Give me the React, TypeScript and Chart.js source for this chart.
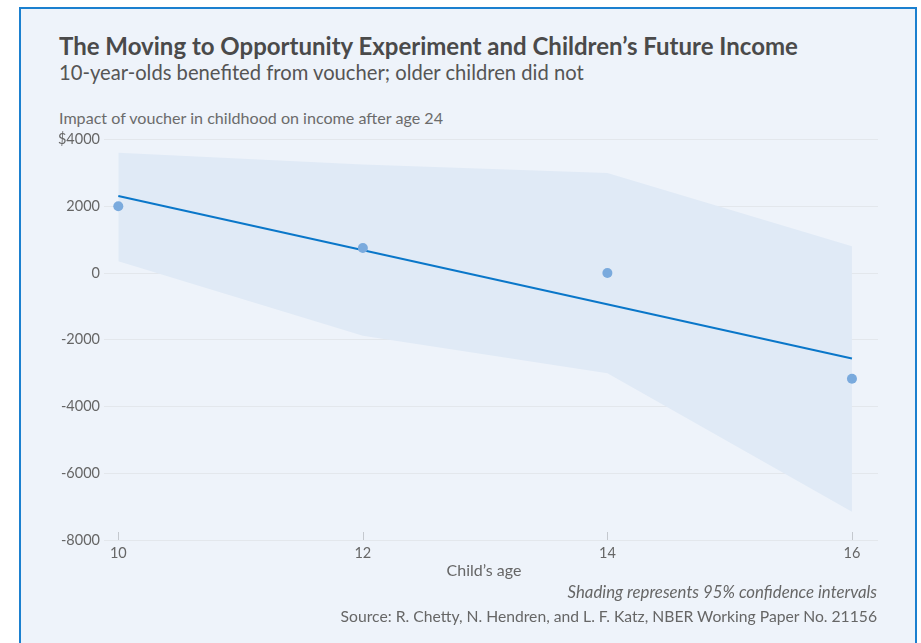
import React, { useEffect, useRef } from "react";
import { Chart, registerables } from "chart.js";

Chart.register(...registerables);

// ---- data ----
const ages = [10, 12, 14, 16];
const impact = [2000, 750, 0, -3170];
const ciUpper = [3600, 3250, 3000, 800];
const ciLower = [350, -1880, -3000, -7150];
const fitAges = [10, 16];
const fitValues = [2310, -2560];
const xTicks = [10, 12, 14, 16];
const yTicks = [4000, 2000, 0, -2000, -4000, -6000, -8000];

const FONT = "Lato, 'Open Sans', sans-serif";

const tickMarks = {
  id: "tickMarks",
  beforeDatasetsDraw(chart: any) {
    const { ctx, chartArea, scales } = chart;
    const x = scales.x;
    ctx.save();
    ctx.strokeStyle = "#c4c8ce";
    ctx.lineWidth = 1;
    xTicks.forEach((v) => {
      const px = Math.round(x.getPixelForValue(v)) + 0.5;
      ctx.beginPath();
      ctx.moveTo(px, chartArea.bottom);
      ctx.lineTo(px, chartArea.bottom - 8);
      ctx.stroke();
    });
    ctx.restore();
  },
};

export default function App() {
  const ref = useRef<HTMLCanvasElement>(null);

  useEffect(() => {
    if (!ref.current) return;
    const chart = new Chart(ref.current, {
      type: "line",
      data: {
        datasets: [
          {
            type: "scatter",
            label: "Impact",
            data: ages.map((a, i) => ({ x: a, y: impact[i] })),
            backgroundColor: "#7aaadd",
            borderWidth: 0,
            pointRadius: 5,
            pointHoverRadius: 5,
            order: 0,
          } as any,
          {
            label: "Fit",
            data: fitAges.map((a, i) => ({ x: a, y: fitValues[i] })),
            borderColor: "#0a77c9",
            borderWidth: 2,
            pointRadius: 0,
            fill: false,
            tension: 0,
            order: 1,
          },
          {
            label: "CI lower",
            data: ages.map((a, i) => ({ x: a, y: ciLower[i] })),
            borderWidth: 0,
            borderColor: "rgba(0,0,0,0)",
            pointRadius: 0,
            fill: false,
            tension: 0,
            order: 3,
          },
          {
            label: "CI upper",
            data: ages.map((a, i) => ({ x: a, y: ciUpper[i] })),
            borderWidth: 0,
            borderColor: "rgba(0,0,0,0)",
            backgroundColor: "#e0eaf6",
            pointRadius: 0,
            fill: { target: 2 },
            tension: 0,
            order: 2,
          },
        ],
      },
      options: {
        animation: false,
        responsive: false,
        maintainAspectRatio: false,
        layout: { padding: { left: 0, top: 139.5, right: 43, bottom: 73 } },
        plugins: {
          legend: { display: false },
          tooltip: { enabled: false },
          title: { display: false },
        },
        scales: {
          x: {
            type: "linear",
            min: 9.883,
            max: 16.213,
            grid: { display: false, drawTicks: false },
            border: { display: false },
            afterBuildTicks: (s: any) => {
              s.ticks = xTicks.map((v) => ({ value: v }));
            },
            afterFit: (s: any) => {
              s.height = 30;
            },
            ticks: {
              padding: 5,
              color: "#666",
              font: { family: FONT, size: 14.5 },
              callback: (v: any) => String(v),
            },
          },
          y: {
            type: "linear",
            min: -8000,
            max: 4000,
            grid: { color: "#e3e7ec", lineWidth: 1, drawTicks: false },
            border: { display: false },
            afterBuildTicks: (s: any) => {
              s.ticks = yTicks.map((v) => ({ value: v }));
            },
            afterFit: (s: any) => {
              s.width = 104;
            },
            ticks: {
              padding: 4,
              color: "#666",
              font: { family: FONT, size: 14.5 },
              callback: (v: any) => (v === 4000 ? "$4000" : String(v)),
            },
          },
        },
      },
      plugins: [tickMarks],
    });
    return () => chart.destroy();
  }, []);

  const abs = (s: React.CSSProperties): React.CSSProperties => ({
    position: "absolute",
    whiteSpace: "nowrap",
    lineHeight: 1,
    fontFamily: FONT,
    ...s,
  });

  return (
    <div
      style={{
        position: "fixed",
        left: 0,
        top: 0,
        width: 921,
        height: 643,
        overflow: "hidden",
        background: "#ffffff",
      }}
    >
      <div
        style={{
          position: "absolute",
          left: 19,
          top: 7,
          width: 898,
          height: 700,
          boxSizing: "border-box",
          border: "2px solid #1b80cf",
          background: "#eef3fa",
        }}
      />
      <div style={abs({ left: 59, top: 33.7, fontSize: 24, fontWeight: 700, color: "#4a4a4a" })}>
        The Moving to Opportunity Experiment and Children’s Future Income
      </div>
      <div style={abs({ left: 59, top: 62.3, fontSize: 20.2, color: "#555" })}>
        10-year-olds benefited from voucher; older children did not
      </div>
      <div style={abs({ left: 59, top: 109.8, fontSize: 16.1, color: "#6b6b6b" })}>
        Impact of voucher in childhood on income after age 24
      </div>
      <canvas
        ref={ref}
        width={921}
        height={643}
        style={{ position: "absolute", left: 0, top: 0, width: 921, height: 643 }}
      />
      <div style={abs({ left: 384, width: 200, textAlign: "center", top: 561.8, fontSize: 16, color: "#666" })}>
        Child’s age
      </div>
      <div style={abs({ right: 44, top: 584.4, fontSize: 16.8, fontStyle: "italic", color: "#666" })}>
        Shading represents 95% confidence intervals
      </div>
      <div style={abs({ right: 44, top: 608.8, fontSize: 15.7, color: "#666" })}>
        Source: R. Chetty, N. Hendren, and L. F. Katz, NBER Working Paper No. 21156
      </div>
    </div>
  );
}
